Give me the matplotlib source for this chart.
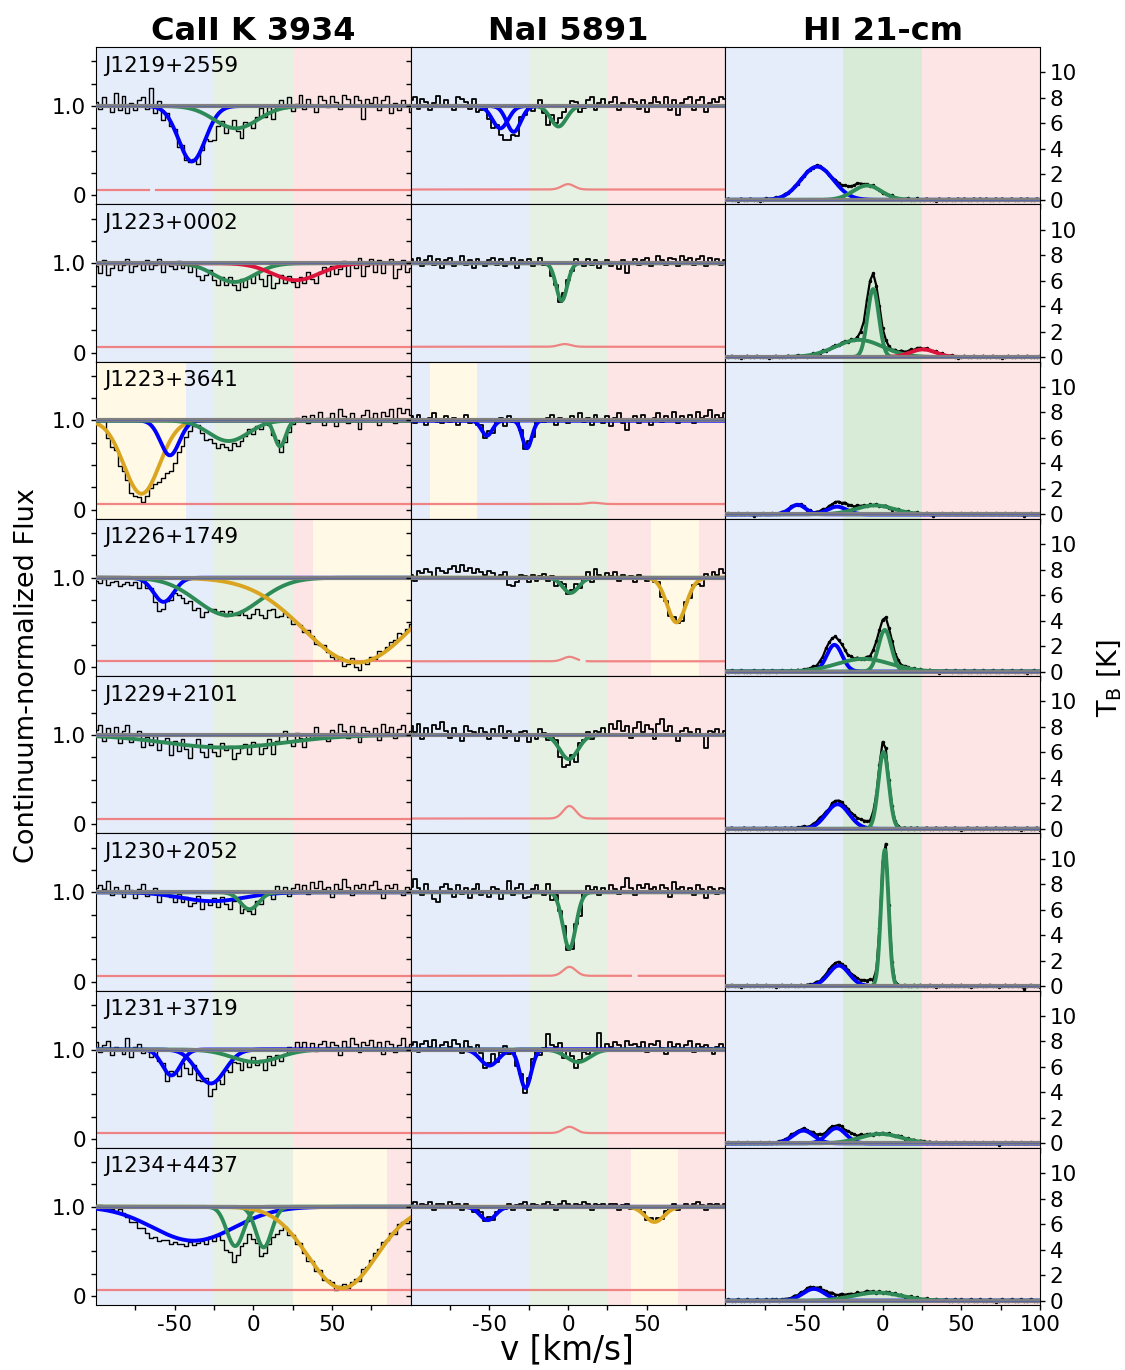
import numpy as np
import matplotlib.pyplot as plt
from matplotlib.ticker import FixedLocator, FuncFormatter

plt.rcParams['font.family'] = ['DejaVu Sans']

SIGHTLINES = ["J1219+2559", "J1223+0002", "J1223+3641", "J1226+1749",
              "J1229+2101", "J1230+2052", "J1231+3719", "J1234+4437"]
COLUMN_TITLES = ["CaII K 3934", "NaI 5891", "HI 21-cm"]

# velocity bands (km/s) and their shading
BAND_EDGES = [-100, -25, 25, 100]
OPT_BAND_COLORS = ["#e6edfa", "#e6f1e3", "#fde5e5"]
HI_BAND_COLORS = ["#e6edfa", "#d8ebd6", "#fde5e5"]
EXTRA_COLOR = "#fff9e6"

# additional windows shaded yellow: (row, column, vmin, vmax)
EXTRA_WINDOWS = [(2, 0, -100, -43), (2, 1, -88, -58), (3, 0, 38, 100),
                 (3, 1, 53, 83), (7, 0, 25, 85), (7, 1, 40, 70)]

FIT_COLORS = {"b": "blue", "g": "seagreen", "r": "crimson", "y": "goldenrod"}

# absorption components: (colour, centre [km/s], depth, sigma [km/s])
CAII_COMPONENTS = [
    [("b", -39, 0.62, 8.5), ("g", -11, 0.25, 14)],
    [("g", -12, 0.21, 13), ("r", 27, 0.19, 15)],
    [("y", -71, 0.82, 11.3), ("b", -53, 0.39, 6), ("g", -15.7, 0.23, 12.5),
     ("g", 17, 0.29, 3.5)],
    [("b", -57, 0.27, 6.5), ("g", -16, 0.42, 20), ("y", 66, 0.95, 34)],
    [("g", -18, 0.14, 38)],
    [("b", -26, 0.10, 20), ("g", -2.4, 0.19, 5.8)],
    [("b", -52, 0.29, 5.8), ("b", -27, 0.38, 9), ("g", 1.5, 0.14, 15)],
    [("b", -38, 0.38, 26), ("g", -11.5, 0.44, 5.4), ("g", 6.6, 0.455, 5),
     ("y", 56.5, 0.91, 21.7)],
]
NAI_COMPONENTS = [
    [("b", -43, 0.25, 5), ("b", -34.5, 0.29, 4.5), ("g", -6, 0.23, 5)],
    [("g", -4, 0.42, 3.5)],
    [("b", -51.5, 0.17, 3.5), ("b", -26, 0.31, 3)],
    [("g", 1.7, 0.17, 5), ("y", 69, 0.50, 6)],
    [("g", 0.6, 0.27, 5.8)],
    [("g", 0.9, 0.63, 4.1)],
    [("b", -50, 0.18, 5.7), ("b", -27, 0.43, 3.6), ("g", 6.4, 0.14, 7.4)],
    [("b", -51, 0.15, 5), ("y", 55, 0.17, 6)],
]
# HI emission components: (colour, centre [km/s], peak T_B [K], sigma [km/s])
HI_COMPONENTS = [
    [("b", -41.6, 2.6, 10.3), ("g", -9.8, 1.12, 9)],
    [("g", -15, 1.35, 15), ("g", -6, 5.34, 3.6), ("r", 25.6, 0.6, 8)],
    [("b", -54, 0.75, 5), ("b", -29, 0.6, 6), ("g", -5, 0.7, 12)],
    [("b", -30.6, 2.1, 4.9), ("g", -12, 1.0, 17), ("g", 1.4, 3.27, 4.1)],
    [("b", -28.6, 1.93, 7.3), ("g", 0.6, 6.03, 3.3)],
    [("b", -27.8, 1.61, 6.5), ("g", 1.4, 10.7, 2.4)],
    [("b", -50.4, 1.0, 6.6), ("b", -29.4, 1.19, 6), ("g", -1.3, 0.74, 13)],
    [("b", -43.7, 0.92, 7), ("g", -3.4, 0.63, 15)],
]

# spectrum minus fit, in units of RESID_UNIT (bins span -100..100 km/s)
RESID_UNIT = 0.016
CAII_RESID = [
    [3, -2, 6, 1, -4, 9, -3, 7, -5, 2, -3, 4, 6, -2, 13, -4, 5, -6, 2, -3,
     1, -5, 3, -2, 0, 2, -4, 1, 3, -3, -6, 2, 5, -4, 1, 6, -2, -7, 3, 1,
     -4, 2, 7, -1, 4, -5, 3, 6, 0, 7, -3, 2, 8, -2, 5, 1, -4, 7, 4, -1,
     7, 3, -2, 8, 5, 0, 7, 4, -9, 5, 2, 6, -3, 4, 7, -5, 2, -3, 4, 1, -4],
    [-2, -7, 2, -8, -3, 1, -5, -1, 3, -6, -2, 1, -5, 2, -4, -1, 3, -6, 1, -2,
     -4, 2, -3, 0, -5, 1, -6, -8, -3, 2, -4, -6, 1, -3, 3, -2, -5, 2, -4, 1,
     -3, 2, -2, -7, 1, -8, -4, 2, -3, 3, -1, -5, 2, -3, 4, -2, -6, 1, 3, -4,
     2, -5, -2, 3, -8, 1, -3, 4, -9, -2, 3, -6, 2, -7, 1, 3, -10, -4, 2, -6, -3],
    [1, 3, 5, -4, -6, -3, -8, -5, -4, -7, -5, -3, -6, -4, -2, -3, -5, -4, -2, -3,
     -2, -1, -4, -3, -2, 1, 2, -3, -6, -4, -5, -7, -3, -4, -6, -2, -5, -3, -1, 2,
     -3, 1, -2, 3, 1, -1, 2, -4, -2, -3, -1, 2, 0, 3, -2, 4, 1, 6, -3, 2,
     5, -4, 8, 3, -2, 5, 1, -6, 4, 7, 2, 5, -3, 6, 3, 8, -2, 9, 5, 8, 4],
    [-2, -4, -1, -5, -3, -2, -6, -4, -3, -5, -2, -6, 1, -2, 2, -4, -6, -3, 3, 2,
     4, 1, -2, -5, -3, -7, -4, -8, -3, 1, 3, 2, 4, 1, 5, 3, 2, 4, 1, -2,
     0, 3, -2, -4, 1, 2, -3, -1, 2, 1, -2, 1, 2, -1, 3, 1, -2, 0, 2, -1,
     -2, -3, 1, -4, -2, 3, -3, -5, 1, -2, 2, -1, 3, 1, 2, 4, 3, 5, 2, 3, 4],
    [4, 8, -3, 6, 2, 7, -4, 5, 9, -2, 3, 6, -5, 2, -3, 4, -6, 1, 3, -8,
     2, -5, 4, -3, -9, 1, 5, -4, -7, 2, -3, -6, 3, -2, 1, -8, -4, -1, 2, -5,
     3, 1, -6, -2, 4, -7, 2, 5, 8, 1, -3, 6, 2, -5, 4, 1, 8, 3, 2, -2,
     5, 3, 9, 4, -1, 7, 2, -4, 6, 3, 1, 5, -3, 8, 2, 6, -2, 4, 7, 1, 3],
    [3, 5, 2, 8, -2, 4, 1, -3, 5, 2, -4, 3, 6, -2, 1, 4, -5, 2, 3, -1,
     -4, 2, -3, 1, -5, -2, 3, -6, 1, -3, 2, -4, 3, -2, -5, 1, 4, -3, 2, 1,
     -2, 4, -1, 3, 2, -3, 5, 1, 4, -2, 3, 6, 2, 5, -1, 7, 3, 8, 2, 4,
     -3, 6, 2, 9, 4, -2, 5, 3, 6, 1, 5, 8, 2, -4, 5, 3, 6, 1, -2, 4, 2],
    [5, -2, 3, 6, -4, 2, 1, -3, 8, -5, 2, 4, -2, 1, -4, 3, -1, 2, -6, 3,
     1, -4, 2, -3, -7, 2, -5, -2, 3, -8, -3, 1, -4, 2, -2, 3, 1, -5, 2, -3,
     4, -2, 1, -6, 3, -4, 2, -3, 1, 5, 2, 7, 3, 6, 2, 5, -1, 4, 6, 2,
     5, 3, -4, 6, 2, 8, 4, -2, 5, 3, 7, 2, 5, -3, 6, 4, -2, 3, 8, 2, 4],
    [2, 3, 1, 3, 2, 1, 3, 1, -1, -3, -2, -5, -4, -6, -8, -6, -7, -5, -4, -6,
     -3, -4, -3, -4, -1, -3, -2, -1, -3, 1, -2, 2, 1, -2, 1, -3, 1, 2, -2, 1,
     -1, 2, -2, 1, 3, 1, -2, -1, 2, -2, 1, -2, 2, -1, -3, 1, -2, 2, -2, 1,
     2, -2, 1, 3, -1, 2, 2, -2, 3, 1, 2, 3, 2, 3, 1, 2, -2, 2, 1, -2, -2],
]
NAI_RESID = [
    [4, 6, -2, 5, 3, -3, 2, 7, -1, 4, 1, -3, 6, 5, 3, -2, 5, -4, -2, 3,
     -3, -5, 2, -2, -4, -3, 1, -3, 4, -1, 3, -3, 1, 5, -2, -7, 4, 2, 6, 7,
     6, 7, 4, -4, -1, 4, 6, -3, 2, 5, -1, 3, 6, -3, 2, 1, 5, 3, -2, 4,
     -4, 2, 6, 3, -1, 6, -3, 4, -6, 2, 5, 6, -3, 4, 6, -4, 2, 5, 3, 6, 5],
    [3, 1, 4, -2, 2, 5, -1, 3, -3, 2, 4, -2, 1, 5, -1, 2, -3, 3, 1, -2,
     2, 4, -1, 3, -2, 1, 4, -3, 2, 0, 3, -2, 1, 4, -1, 2, -3, 1, -2, 3,
     2, -1, 4, 1, -2, 3, -1, 2, -3, 1, 2, -2, 1, -4, 2, -7, 1, 3, -1, 2,
     4, -2, 1, 5, 2, -1, 4, 3, -2, 5, 2, 4, -1, 3, 5, -2, 4, 1, 3, -1, 2],
    [3, -2, 4, 1, -3, 2, 5, -1, -2, 3, -1, 2, -3, 1, 4, -2, 1, -1, 3, -2,
     2, -3, 1, 2, -4, 3, -1, 2, 1, -3, 4, -2, 3, 1, -1, 2, 4, -3, 2, 1,
     -2, 3, 1, 5, -1, 2, -3, 4, 1, -2, 3, -4, 2, 5, -2, -7, 1, 3, -2, 4,
     1, -3, 2, 5, -1, 3, 1, 6, -2, 3, 1, 4, -2, 6, 2, 3, 7, 1, 4, 2, 5],
    [2, -2, 5, 3, 6, 4, -1, 7, 5, 3, 6, 8, 4, 9, 5, 7, 3, 6, 4, 2,
     5, 3, -1, 2, 4, -5, -6, -3, 2, 1, -3, 2, -2, 1, 3, -2, 2, -4, 1, 3,
     -1, 2, 4, -2, 3, 5, -3, 6, 2, -1, 3, 1, 4, -2, 2, -1, 1, -3, 2, 0,
     -2, 1, -1, 2, -3, 1, -2, 3, -1, -4, 2, -3, 1, -2, -5, 3, -1, 4, 2, 6, 3],
    [6, 2, 8, -3, 5, 1, 7, 4, 9, 3, -2, 5, 1, -4, 6, 3, 2, -1, 5, 2,
     -3, 4, 1, 6, -2, 3, 1, -4, 2, 3, -5, 1, -3, 4, 2, -2, 1, 3, -5, -8,
     -4, 2, -6, 3, 1, 4, -2, 3, 2, 5, -1, 8, 4, 10, 3, 6, -2, 5, 9, 2,
     7, 4, -3, 8, 11, 3, 6, 1, -4, 3, 5, 2, -1, 4, 1, -9, 3, 2, 4, 1, 3],
    [4, 9, 3, -2, 6, 1, -5, -7, 4, 6, 2, -3, 5, -1, 3, -4, 2, 6, -2, 1,
     -3, 4, 2, -5, 1, 8, -2, 3, 6, -4, -3, 2, 5, 1, -2, 6, -4, 3, 1, 4,
     -2, -3, 2, -6, 3, 5, 2, 4, -2, 3, 1, 5, 2, -1, 4, 10, 3, -2, 5, 3,
     6, 2, 4, 1, 5, 3, -3, 7, 2, 4, 1, 3, -2, 5, 2, -4, 4, 2, -1, 3, 2],
    [3, 5, -2, 4, 6, 2, 7, -1, 3, 5, 2, 7, 4, -2, 6, 3, 1, 8, 5, -3,
     2, 7, -1, 3, 5, -2, 1, -3, 2, -4, 3, 6, 2, -3, 1, 11, 4, 3, 7, -2,
     5, 3, -4, 1, 6, 3, 5, 2, 13, 1, 4, 2, 5, 3, -1, 6, 3, 4, 2, 5,
     -2, 4, 3, 6, 1, -3, 5, 2, 4, 1, 3, 6, -2, 4, 2, 3, 1, -3, 2, 4, 1],
    [2, 3, -1, 2, 1, 3, -2, 2, 2, -1, 3, 1, 2, -2, 2, 1, -2, 2, 3, -1,
     2, -2, 1, 2, -1, 2, -2, 1, 2, 3, -2, 2, 1, -1, 2, 3, 1, -2, 2, 4,
     2, -1, 2, 1, 3, 2, -2, 2, 1, 2, -1, 2, 2, -2, 1, 2, -1, 2, 3, 1,
     -2, 2, 1, 2, -1, 2, 2, 3, -2, 1, 2, -1, 2, 3, 1, -2, 2, 1, 2, -1, 2],
]
# HI brightness minus fit, in units of 0.1 K (2 km/s channels)
HI_RESID = [
    [0, 1, 0, 0, -1, 1, 0, 0, 1, 0, 0, -1, 0, 1, 0, 0, 1, 0, 0, 1,
     0, 0, 1, 0, 1, 0, 1, 0, 0, 1, 1, 0, 0, -1, 0, 1, 1, 1, 2, 2,
     2, 2, 3, 2, 1, 1, 0, 1, 0, 0, -1, 0, 0, 1, 0, 0, -1, 0, 1, 0,
     0, 1, 0, 0, 1, 0, 0, -1, 1, 0, 0, 1, 0, 0, 1, 0, 1, 0, 0, 1,
     0, 1, 0, 1, 0, 0, 1, 0, 1, 0, 0, 1, 0, 0, 1, 0, 1, 0, 0, 1, 0],
    [0, 0, 1, 0, 0, -1, 0, 1, 0, 0, 1, 0, 0, 0, -1, 0, 1, 0, 0, 0,
     1, 0, 0, 1, 0, 0, -1, 0, 1, 0, 0, 1, 0, 0, 1, 1, 0, 1, 1, 0,
     1, 0, 1, 2, 1, 3, 2, 1, 0, 2, 1, 2, 1, 0, 1, 0, 1, 0, 0, 1,
     0, 1, 1, 0, 1, 0, 0, 1, 0, 1, 0, 0, 1, 0, -1, 0, 1, 0, 0, 1,
     0, 0, 1, 0, 0, 1, 0, 0, -1, 0, 1, 0, 0, 1, 0, 0, 1, 0, 0, 0, 1],
    [0, 1, 0, 0, 1, 0, 0, 1, 0, -1, 0, 0, 1, 0, 0, 1, 0, 0, 1, 0,
     0, 1, 0, 0, 1, 1, 0, 1, 0, 1, 1, 2, 1, 2, 2, 3, 3, 2, 3, 2,
     2, 1, 2, 1, 1, 0, 1, 0, 1, 0, 0, 1, 0, -1, 0, 1, 0, 0, 1, 0,
     0, 1, 0, 0, 1, 0, -1, 0, 0, 1, 0, 0, 1, 0, 0, 1, 0, 0, 1, 0,
     1, 0, 0, 1, 0, 0, 1, 0, 0, 1, 0, 0, 1, 0, 0, -1, 0, 1, 0, 0, 1],
    [0, 0, 1, 0, 0, 1, 0, 0, 0, 1, 0, 0, 1, 0, 0, 1, 0, 0, 1, 0,
     0, 1, 0, 1, 0, 1, 1, 1, 2, 1, 2, 2, 3, 2, 1, 1, 0, 1, 1, 0,
     1, 0, 1, 0, 0, 1, 0, 1, 1, 1, 2, 3, 1, 1, 0, 1, 0, 1, 1, 0,
     1, 0, 1, 0, 0, 1, 0, 0, -1, 0, 1, 0, 0, 1, 0, 0, 1, 0, 0, 1,
     0, 0, 1, 0, 0, 1, 0, 0, 1, 0, 0, 1, 0, 0, 1, 0, -1, 0, 1, 0, 0],
    [0, 0, 1, 0, 0, 0, 1, 0, 0, 1, 0, 0, 0, 1, 0, 0, 1, 0, 0, 1,
     0, 1, 0, 1, 1, 2, 1, 1, 2, 2, 3, 2, 2, 1, 3, 3, 3, 3, 2, 3,
     3, 4, 4, 5, 5, 5, 4, 5, 4, 6, 9, 8, 3, 2, 1, 1, 0, 1, 0, 1,
     0, 1, 0, 0, 1, 0, 0, 1, 0, 0, 1, 0, 0, 1, 0, -1, 0, 1, 0, 0,
     1, 0, 0, 1, 0, 0, 1, 0, 0, 1, 0, 0, 1, 0, -1, 0, 1, 0, 0, 1, -1],
    [0, 0, 1, 0, 0, -1, 0, 1, 0, 0, 1, 0, 0, 1, 0, 0, -1, 0, 1, 0,
     0, 1, 0, 0, 1, 0, 1, 1, 1, 2, 1, 2, 2, 3, 3, 3, 3, 2, 2, 2,
     2, 3, 3, 3, 4, 4, 5, 4, 4, 6, 7, 8, 4, 2, 1, 1, 0, 1, 0, 0,
     1, 0, 1, 0, 0, 1, 0, -1, 0, 1, 0, 0, 1, 0, 0, 1, 0, 0, -1, 0,
     0, 1, 0, 0, 1, 0, 0, -1, 0, 1, 0, 0, 1, 0, 0, -2, 0, 1, 0, 0, -1],
    [0, 1, 0, 0, 1, 0, 0, 1, 0, 0, 0, 1, 0, 0, 1, 0, 0, 1, 1, 1,
     1, 2, 1, 1, 1, 2, 1, 1, 2, 1, 2, 1, 1, 2, 2, 1, 2, 2, 1, 2,
     2, 2, 1, 2, 1, 1, 1, 0, 1, 0, 1, 0, 1, 0, 0, 1, 1, 0, 1, 0,
     1, 0, 1, 1, 0, 1, 0, 1, 0, 0, 1, 0, 0, 1, 0, 0, 1, 0, 0, 1,
     0, 0, 1, 0, 0, 1, 0, -1, 0, 1, 0, 1, 0, 0, 1, 0, 0, 1, 0, 0, 1],
    [0, 1, 0, 0, 1, 0, 0, 1, 0, 0, 1, 0, 0, 1, 0, 1, 1, 0, 1, 1,
     1, 1, 2, 1, 2, 1, 2, 2, 1, 1, 2, 1, 2, 2, 3, 2, 2, 3, 2, 2,
     2, 1, 2, 1, 1, 2, 1, 1, 0, 1, 0, 1, 1, 0, 1, 0, 1, 0, 0, 1,
     0, 1, 0, 0, 1, 0, 0, 1, 0, 0, 1, 0, 0, 1, 0, 1, 0, 0, 1, 0,
     0, 1, 0, 0, 1, 0, -1, 0, 1, 0, 0, 1, 0, 0, 1, 0, 0, 1, 0, 0, 0],
]

# flux error spectra: flat level plus a telluric bump in NaI (centre, height)
ERR_LEVEL = 0.065
NAI_ERR_BUMPS = [(0, 0.06), (-2, 0.03), (16, 0.015), (1, 0.05),
                 (1, 0.14), (1, 0.10), (1, 0.07), (0, 0.0)]
ERR_GAPS = [(0, 0, -66, -62), (3, 1, 7, 12), (5, 1, 40, 45)]

XTICKS = [-75, -50, -25, 0, 25, 50, 75]
HI_XTICKS = [-75, -50, -25, 0, 25, 50, 75, 100]
FLUX_TICKS = [0, 0.25, 0.5, 0.75, 1.0, 1.25, 1.5]
TB_TICKS = [0, 2, 4, 6, 8, 10]


def profile(v, centre, height, sigma):
    return height * np.exp(-0.5 * ((v - centre) / sigma) ** 2)


def shade(ax, row, col, colors):
    for lo, hi, c in zip(BAND_EDGES[:-1], BAND_EDGES[1:], colors):
        ax.axvspan(lo, hi, color=c, lw=0, zorder=0)
    for r, cc, lo, hi in EXTRA_WINDOWS:
        if r == row and cc == col:
            ax.axvspan(lo, hi, color=EXTRA_COLOR, lw=0, zorder=0.5)


def draw_optical(ax, row, col, comps, resid, bump):
    shade(ax, row, col, OPT_BAND_COLORS)
    v_fine = np.linspace(-100, 100, 801)
    v_bin = np.linspace(-100, 100, len(resid))

    model = np.ones_like(v_bin)
    for _, c, d, s in comps:
        model *= 1 - profile(v_bin, c, d, s)
    flux = model + np.array(resid) * RESID_UNIT
    ax.step(v_bin, flux, where="mid", color="black",
            lw=1.0 if col == 0 else 1.3, zorder=2)

    for key, c, d, s in comps:
        ax.plot(v_fine, 1 - profile(v_fine, c, d, s), color=FIT_COLORS[key],
                lw=2.8, zorder=3)
    ax.axhline(1.0, color="gray", lw=3, zorder=4)
    ax.axhline(1.0, color="#4455bb", lw=0.8, alpha=0.5, zorder=4.5)

    err = ERR_LEVEL + profile(v_fine, bump[0], bump[1], 4.0)
    for r, cc, lo, hi in ERR_GAPS:
        if r == row and cc == col:
            err[(v_fine > lo) & (v_fine < hi)] = np.nan
    ax.plot(v_fine, err, color="#f07878", lw=1.6, alpha=0.9, zorder=2.5)

    ax.set_xlim(-100, 100)
    ax.set_ylim(-0.1, 1.66)
    ax.xaxis.set_major_locator(FixedLocator(XTICKS))
    ax.yaxis.set_major_locator(FixedLocator(FLUX_TICKS))
    ax.yaxis.set_major_formatter(FuncFormatter(
        lambda y, _: {0.0: "0", 1.0: "1.0"}.get(y, "")))
    ax.xaxis.set_major_formatter(FuncFormatter(
        lambda x, _: str(int(x)) if x in (-50, 0, 50) else ""))
    if col != 0:
        ax.tick_params(labelleft=False)


def draw_hi(ax, row, comps, resid):
    shade(ax, row, 2, HI_BAND_COLORS)
    v_fine = np.linspace(-100, 100, 801)
    v_chan = np.linspace(-100, 100, len(resid))

    tb = np.zeros_like(v_chan)
    for _, c, a, s in comps:
        tb += profile(v_chan, c, a, s)
    tb = tb + np.array(resid) / 10.0
    ax.plot(v_chan, tb, color="black", lw=1.6, marker=".", ms=3, zorder=2)

    for key, c, a, s in comps:
        ax.plot(v_fine, profile(v_fine, c, a, s), color=FIT_COLORS[key],
                lw=2.8, zorder=3)
    ax.axhline(0.0, color="gray", lw=3, zorder=4)
    ax.axhline(0.0, color="#4455bb", lw=0.8, alpha=0.6, zorder=4.5)

    ax.set_xlim(-100, 100)
    ax.set_ylim(-0.35, 12.0)
    ax.xaxis.set_major_locator(FixedLocator(HI_XTICKS))
    ax.xaxis.set_major_formatter(FuncFormatter(
        lambda x, _: str(int(x)) if x in (-50, 0, 50, 100) else ""))
    ax.yaxis.tick_right()
    ax.yaxis.set_major_locator(FixedLocator(TB_TICKS))


fig, axes = plt.subplots(8, 3, figsize=(11.25, 13.7), dpi=100)
fig.subplots_adjust(left=0.0853, right=0.9244, top=0.9657, bottom=0.0474,
                    wspace=0, hspace=0)

for row in range(8):
    draw_optical(axes[row, 0], row, 0, CAII_COMPONENTS[row], CAII_RESID[row],
                 (0, 0.0))
    draw_optical(axes[row, 1], row, 1, NAI_COMPONENTS[row], NAI_RESID[row],
                 NAI_ERR_BUMPS[row])
    draw_hi(axes[row, 2], row, HI_COMPONENTS[row], HI_RESID[row])
    axes[row, 0].text(0.025, 0.945, SIGHTLINES[row], transform=axes[row, 0].transAxes,
                      fontsize=15.5, va="top", ha="left", zorder=6)
    for ax in axes[row]:
        ax.tick_params(direction="out", length=3.5, width=1, labelsize=15.5)
        if row < 7:
            ax.tick_params(labelbottom=False)

for col, title in enumerate(COLUMN_TITLES):
    axes[0, col].set_title(title, fontsize=23, fontweight="bold", pad=3)

fig.text(0.024, 0.507, "Continuum-normalized Flux", rotation=90,
         fontsize=19.5, ha="center", va="center")
fig.text(0.504, 0.0146, "v [km/s]", fontsize=23.5, ha="center", va="center")
fig.text(0.986, 0.505, r"T$_\mathrm{B}$ [K]", rotation=90,
         fontsize=19.5, ha="center", va="center")

fig.savefig("out.png", dpi=100)
